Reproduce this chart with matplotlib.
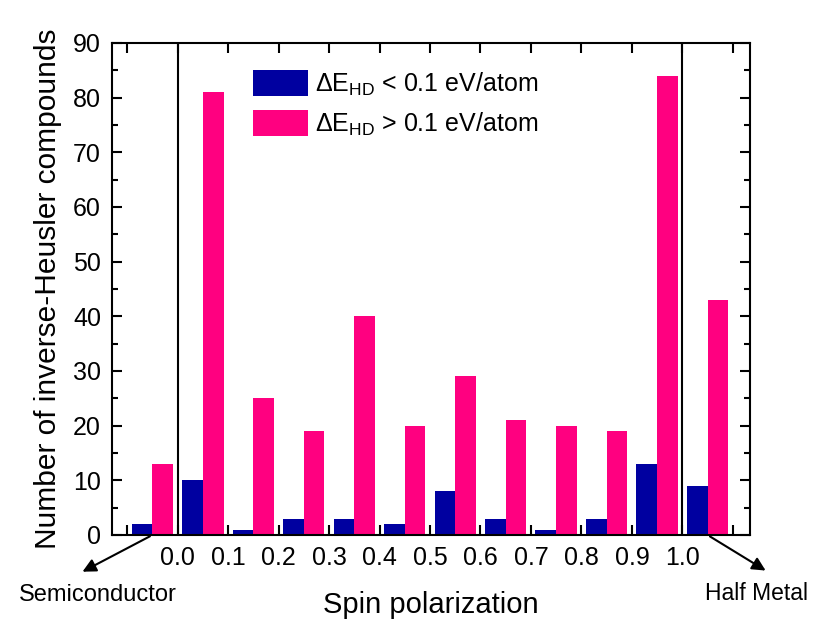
import numpy as np
import matplotlib
matplotlib.use("Agg")
import matplotlib.pyplot as plt

plt.rcParams['font.family'] = ['Liberation Sans', 'DejaVu Sans']
plt.rcParams['mathtext.fontset'] = 'custom'
plt.rcParams['mathtext.rm'] = 'Liberation Sans'

# bin centres: semiconductor (-0.05), 10 bins of 0.1, half metal (1.05)
centers = [-0.05, 0.05, 0.15, 0.25, 0.35, 0.45, 0.55, 0.65, 0.75, 0.85, 0.95, 1.05]
low_hd = [2, 10, 1, 3, 3, 2, 8, 3, 1, 3, 13, 9]
high_hd = [13, 81, 25, 19, 40, 20, 29, 21, 20, 19, 84, 43]
tick_pos = [round(-0.1 + 0.1 * i, 1) for i in range(13)]
tick_labels = [''] + ['%.1f' % v for v in tick_pos[1:-1]] + ['']

blue = '#0000A0'
pink = '#FF0080'

fig = plt.figure(figsize=(8.3, 6.39), dpi=100)
ax = fig.add_axes([112/830, 1 - 535/639, 638/830, 492/639])

x = np.array(centers)
w = 0.041
ax.bar(x - w/2, low_hd, width=w, color=blue, label=r'$\Delta$E$_{\rm HD}$ < 0.1 eV/atom')
ax.bar(x + w/2, high_hd, width=w, color=pink, label=r'$\Delta$E$_{\rm HD}$ > 0.1 eV/atom')

ax.axvline(0.0, color='black', lw=1.5)
ax.axvline(1.0, color='black', lw=1.5)

ax.set_xlim(-0.130, 1.134)
ax.set_ylim(0, 90)
ax.set_xticks(tick_pos)
ax.set_xticklabels(tick_labels)
ax.set_yticks(np.arange(0, 91, 10))
ax.set_yticks(np.arange(5, 90, 10), minor=True)
ax.tick_params(axis='both', which='both', direction='in', top=True, right=True,
               width=1.5, labelsize=18)
ax.tick_params(axis='both', which='major', length=7, pad=8)
ax.tick_params(axis='y', which='minor', length=4.5)
for s in ax.spines.values():
    s.set_linewidth(1.5)

ax.set_xlabel('Spin polarization', fontsize=21, labelpad=15)
ax.set_ylabel('Number of inverse-Heusler compounds', fontsize=21.5, labelpad=8)

ax.legend(loc='upper left', bbox_to_anchor=(0.185, 0.99), frameon=False, fontsize=18,
          handlelength=2.2, handleheight=1.2, handletextpad=0.3, labelspacing=0.5)

ax.annotate('', xy=(80, 66), xycoords='figure pixels', xytext=(-0.05, 0), textcoords='data',
            arrowprops=dict(arrowstyle='-|>', color='black', lw=1.5, mutation_scale=20))
ax.annotate('', xy=(768, 67), xycoords='figure pixels', xytext=(1.05, 0), textcoords='data',
            arrowprops=dict(arrowstyle='-|>', color='black', lw=1.5, mutation_scale=20))
fig.text(98/830, 44/639, 'Semiconductor', fontsize=17, ha='center', va='center')
fig.text(756/830, 46/639, 'Half Metal', fontsize=16.5, ha='center', va='center')

fig.savefig('out.png', dpi=100)
